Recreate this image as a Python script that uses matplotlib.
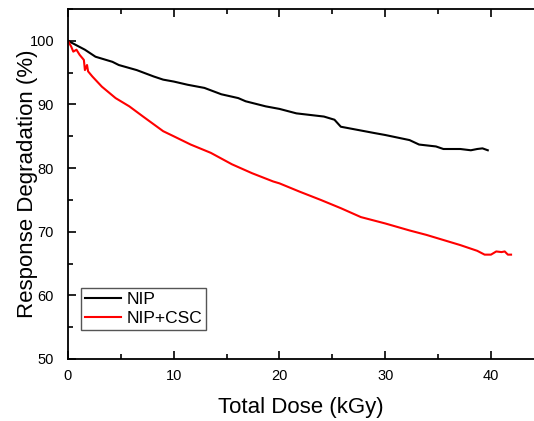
import matplotlib
matplotlib.use("Agg")
import matplotlib.pyplot as plt
from matplotlib.ticker import MultipleLocator

plt.rcParams['font.family'] = ['Liberation Sans', 'DejaVu Sans']

# NIP (black)
nip_dose = [0, 1.6, 2.6, 4.2, 4.8, 6.5, 8.1, 9.0, 10.0, 11.3, 12.9, 14.5, 16.1, 16.8,
            18.7, 20.0, 21.6, 24.2, 25.2, 25.8, 27.4, 29.0, 30.0, 32.3, 33.2, 34.8,
            35.5, 37.1, 38.1, 38.7, 39.2, 39.7]
nip_resp = [100, 98.6, 97.5, 96.7, 96.2, 95.4, 94.4, 93.9, 93.6, 93.1, 92.6, 91.6, 91.0, 90.5,
            89.7, 89.3, 88.6, 88.1, 87.6, 86.5, 86.0, 85.5, 85.2, 84.4, 83.7, 83.4,
            83.0, 83.0, 82.8, 83.0, 83.1, 82.8]

# NIP+CSC (red)
csc_dose = [0, 0.3, 0.5, 0.8, 1.1, 1.5, 1.6, 1.8, 1.9, 2.3, 3.2, 4.5, 5.8, 7.1, 9.0, 10.0,
            11.6, 13.5, 15.5, 17.4, 19.4, 20.0, 21.9, 23.9, 25.8, 27.7, 30.0, 32.3, 33.9,
            35.5, 37.1, 38.7, 39.4, 40.0, 40.5, 41.0, 41.3, 41.6, 41.9]
csc_resp = [100, 99.1, 98.3, 98.6, 97.8, 97.0, 95.4, 96.2, 95.2, 94.4, 92.8, 91.0, 89.7, 88.1,
            85.8, 85.0, 83.7, 82.4, 80.6, 79.2, 77.9, 77.6, 76.3, 75.0, 73.7, 72.3, 71.3,
            70.2, 69.5, 68.7, 67.9, 67.0, 66.4, 66.4, 66.9, 66.8, 66.9, 66.4, 66.4]

fig = plt.figure(figsize=(5.34, 4.21), dpi=100)
ax = fig.add_axes([68 / 534, 62 / 421, 466 / 534, 350 / 421])

ax.plot(nip_dose, nip_resp, color='black', lw=1.5, label='NIP')
ax.plot(csc_dose, csc_resp, color='red', lw=1.5, label='NIP+CSC')

ax.set_xlim(0, 44.07)
ax.set_ylim(50, 105)
ax.xaxis.set_major_locator(MultipleLocator(10))
ax.xaxis.set_minor_locator(MultipleLocator(5))
ax.yaxis.set_major_locator(MultipleLocator(10))
ax.yaxis.set_minor_locator(MultipleLocator(5))
ax.tick_params(which='both', direction='in', top=True, right=False, labelsize=10.5, width=1.2)
ax.tick_params(which='major', length=6)
ax.tick_params(which='minor', length=3.5)
ax.tick_params(axis='y', pad=10)
ax.tick_params(axis='x', pad=7.5)
for s in ax.spines.values():
    s.set_linewidth(1.3)
ax.spines['right'].set_visible(False)

ax.set_xlabel('Total Dose (kGy)', fontsize=16, labelpad=10)
ax.set_ylabel('Response Degradation (%)', fontsize=16, labelpad=-6)

leg = ax.legend(loc='lower left', bbox_to_anchor=(0.028, 0.083), fontsize=12.5, handlelength=2.1,
                fancybox=False, framealpha=1, edgecolor='#555555', borderpad=0.2,
                labelspacing=0.25, handletextpad=0.35, borderaxespad=0)
leg.get_frame().set_linewidth(1.0)

fig.savefig('out.png', dpi=100)
